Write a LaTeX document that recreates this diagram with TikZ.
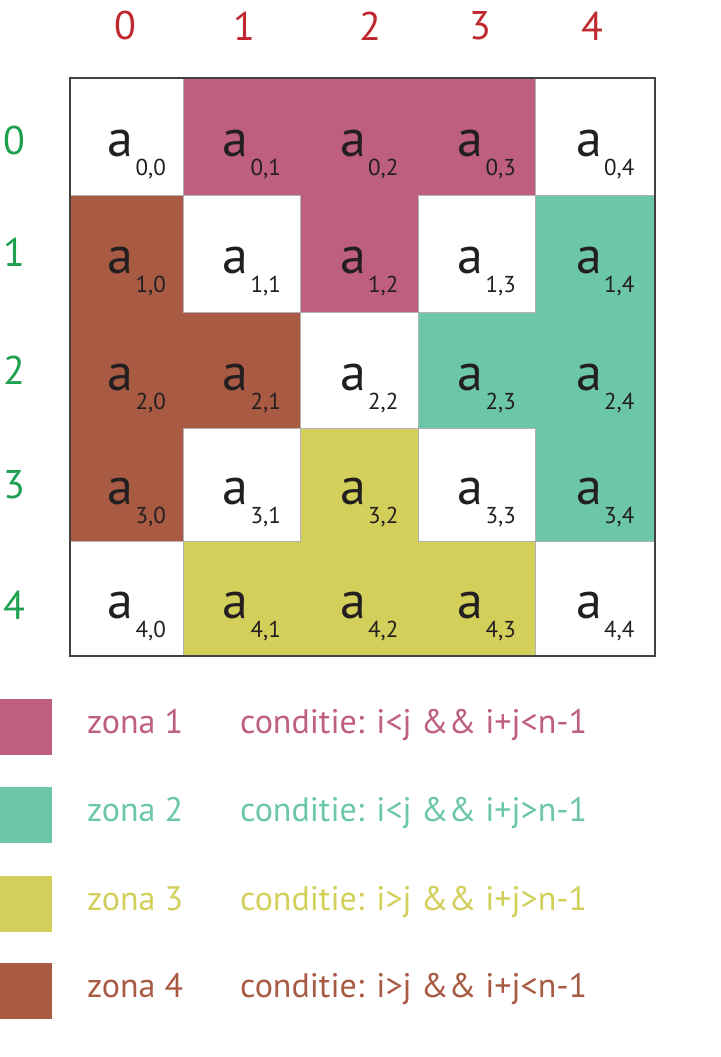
\documentclass[tikz,border=0pt]{standalone}
\usepackage{fontspec}
\setmainfont{PT Sans}
\definecolor{zone0}{HTML}{FFFFFF}
\definecolor{zone1}{HTML}{BE5F7D}
\definecolor{zone2}{HTML}{6BC6AA}
\definecolor{zone3}{HTML}{D3CF5B}
\definecolor{zone4}{HTML}{A95A42}
\definecolor{headred}{HTML}{C0282F}
\definecolor{rowgreen}{HTML}{1FA050}
\definecolor{ink}{HTML}{231F20}
\tikzset{
  cella/.style={inner sep=0pt, text=ink, font=\fontsize{52}{60}\selectfont},
  cellsub/.style={inner sep=0pt, text=ink, font=\fontsize{23}{27}\selectfont},
  headlbl/.style={inner sep=0pt, text=headred, font=\fontsize{40}{48}\selectfont},
  rowlbl/.style={inner sep=0pt, text=rowgreen, font=\fontsize{40}{48}\selectfont},
  legtext/.style={inner sep=0pt, font=\fontsize{34}{40}\selectfont},
  whiteedge/.style={draw=gray!60, line width=0.7pt},
  outer/.style={draw=ink!85, line width=1.3pt}
}
\begin{document}
\begin{tikzpicture}[x=1pt,y=-1pt]
\useasboundingbox (0,0) rectangle (720,1057);
\def\xs{{70,183,300,418,535,655}}
\def\ys{{78,195,312,428,541,656}}
% fills
\foreach \i in {0,...,4}{
  \foreach \j in {0,...,4}{
    \pgfmathtruncatemacro\jn{\j+1}
    \pgfmathtruncatemacro\in{\i+1}
    \pgfmathsetmacro\xa{\xs[\j]}
    \pgfmathsetmacro\xb{\xs[\jn]}
    \pgfmathsetmacro\ya{\ys[\i]}
    \pgfmathsetmacro\yb{\ys[\in]}
    \pgfmathtruncatemacro\z{(\i<\j && \i+\j<4) ? 1 : ((\i<\j && \i+\j>4) ? 2 : ((\i>\j && \i+\j>4) ? 3 : ((\i>\j && \i+\j<4) ? 4 : 0)))}
    \fill[zone\z] (\xa,\ya) rectangle (\xb,\yb);
  }
}
% borders of white cells
\foreach \i in {0,...,4}{
  \foreach \j in {0,...,4}{
    \pgfmathtruncatemacro\jn{\j+1}
    \pgfmathtruncatemacro\in{\i+1}
    \pgfmathsetmacro\xa{\xs[\j]}
    \pgfmathsetmacro\xb{\xs[\jn]}
    \pgfmathsetmacro\ya{\ys[\i]}
    \pgfmathsetmacro\yb{\ys[\in]}
    \pgfmathtruncatemacro\z{(\i<\j && \i+\j<4) ? 1 : ((\i<\j && \i+\j>4) ? 2 : ((\i>\j && \i+\j>4) ? 3 : ((\i>\j && \i+\j<4) ? 4 : 0)))}
    \ifnum\z=0 \draw[whiteedge] (\xa,\ya) rectangle (\xb,\yb);\fi
  }
}
\draw[outer] (70,78) rectangle (655,656);
% cell texts
\foreach \i in {0,...,4}{
  \foreach \j in {0,...,4}{
    \pgfmathtruncatemacro\jn{\j+1}
    \pgfmathtruncatemacro\in{\i+1}
    \pgfmathsetmacro\xa{\xs[\j]}
    \pgfmathsetmacro\xb{\xs[\jn]}
    \pgfmathsetmacro\ya{\ys[\i]}
    \pgfmathsetmacro\yb{\ys[\in]}
    \pgfmathsetmacro\cx{(\xa+\xb)/2}
    \pgfmathsetmacro\cy{(\ya+\yb)/2}
    \node[cella, anchor=base] (a\i\j) at (\cx-6,\cy+20) {a};
    \node[cellsub, anchor=base west] (s\i\j) at (\cx+9,\cy+39) {\i,\j};
  }
}
% headers
\foreach \j/\x in {0/125,1/244,2/370,3/480,4/592}
  \node[headlbl] (h\j) at (\x,26) {\j};
\foreach \i/\y in {0/140,1/252,2/370,3/485,4/605}
  \node[rowlbl] (r\i) at (14,\y) {\i};
% legend
\foreach \k/\y/\cond in {1/727/{i<j \&\& i+j<n-1},2/815/{i<j \&\& i+j>n-1},3/904/{i>j \&\& i+j>n-1},4/991/{i>j \&\& i+j<n-1}}{
  \fill[zone\k] (0,\y-28) rectangle (52,\y+28);
  \node[legtext, text=zone\k, anchor=base west] (z\k) at (87,\y+6) {zona \k};
  \node[legtext, text=zone\k, anchor=base west] (c\k) at (240,\y+6) {conditie: \cond};
}
\end{tikzpicture}
\end{document}
